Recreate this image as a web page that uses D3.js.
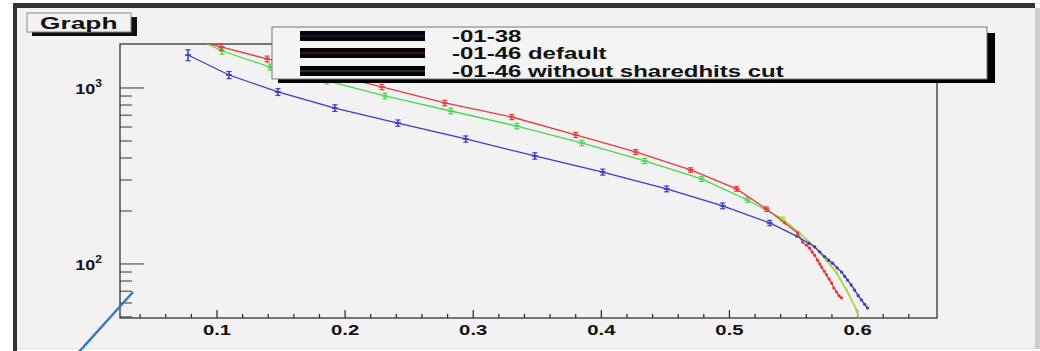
<!DOCTYPE html>
<html lang="en">
<head>
<meta charset="UTF-8">
<title>Graph</title>
<script src="https://d3js.org/d3.v7.min.js"></script>
<style>
  body { margin: 0; background: #fff; }
  svg text { font-family: "Liberation Sans", Arial, sans-serif; font-weight: bold; fill: #111; }
</style>
</head>
<body>
<div id="chart"></div>
<script>
// ---- data ----
var blueX = [0.0774, 0.1094, 0.1476, 0.1920, 0.2412, 0.2942, 0.3481, 0.4011, 0.4510, 0.4947, 0.5314,
             0.5524, 0.5620, 0.5665, 0.5705, 0.5743, 0.5775, 0.5805, 0.5840, 0.5875, 0.5900, 0.5922, 0.5950, 0.5977, 0.6005, 0.6031, 0.6055, 0.6078];
var blueY = [1539, 1185, 949, 769, 632, 513, 411, 333, 267, 214, 171,
             144, 131, 125, 117, 110, 105, 101, 95, 90, 85, 81, 76, 71, 66, 62.4, 59, 56.2];
var blueErr = [110, 55, 42, 33, 26, 21, 17, 13, 10, 8, 6];

var redX = [0.070, 0.1033, 0.1392, 0.184, 0.2287, 0.2778, 0.3301, 0.3800, 0.4268, 0.4697, 0.5056, 0.5290,
            0.5431, 0.5532, 0.5571, 0.5600, 0.5626, 0.5645, 0.5665, 0.5688, 0.5705, 0.5719, 0.5740, 0.5758, 0.5778, 0.5797, 0.5815, 0.5836, 0.5855, 0.5875];
var redY = [1990, 1710, 1462, 1216, 1013, 822, 684, 541, 433, 342, 267, 205,
            171, 150, 133, 128, 123, 117, 112, 105, 100, 96, 91, 86.7, 82, 78, 73, 69.3, 66, 64.1];
var redErr = [0, 70, 55, 45, 36, 29, 23, 18, 14, 10, 8, 6];

var greenX = [0.070, 0.1040, 0.1413, 0.1858, 0.2311, 0.2825, 0.3340, 0.3847, 0.4338, 0.4783, 0.5141, 0.5414,
              0.5546, 0.5665, 0.5758, 0.5836, 0.5914, 0.5992, 0.6012];
var greenY = [2150, 1622, 1316, 1096, 901, 740, 608, 487, 385, 304, 231, 180,
              150, 125, 105, 89, 71, 54.8, 48];
var greenErr = [0, 65, 52, 42, 34, 27, 22, 17, 13, 10, 7, 5];
var greenTailFrom = 11;   // index where the green curve turns yellowish

var seriesNames = ["-01-38", "-01-46 default", "-01-46 without sharedhits cut"];
var seriesColors = ["#3a3ac4", "#e63a3a", "#4cd64c"];
var tailColor = "#b4d63c";

var xMajorTicks = [0.1, 0.2, 0.3, 0.4, 0.5, 0.6];
var xMinorTicks = [0.04, 0.06, 0.08, 0.12, 0.14, 0.16, 0.18, 0.22, 0.24, 0.26, 0.28, 0.32, 0.34, 0.36, 0.38,
                   0.42, 0.44, 0.46, 0.48, 0.52, 0.54, 0.56, 0.58, 0.62, 0.64];
var yMajorTicks = [100, 1000];
var yMinorTicks = [50, 60, 70, 80, 90, 200, 300, 400, 500, 600, 700, 800, 900];

// ---- layout ----
var W = 1040, H = 351;
var frame = { left: 120, right: 937, top: 44, bottom: 318 };

var svg = d3.select("#chart").append("svg")
    .attr("width", W).attr("height", H);

// canvas background and borders
svg.append("rect").attr("x", 13).attr("y", 3).attr("width", 1022).attr("height", 346).attr("fill", "#f2f2f2");
svg.append("rect").attr("x", 13).attr("y", 3).attr("width", 1022).attr("height", 5).attr("fill", "#333");
svg.append("rect").attr("x", 13).attr("y", 3).attr("width", 4).attr("height", 348).attr("fill", "#333");
svg.append("rect").attr("x", 1035).attr("y", 8).attr("width", 5).attr("height", 341).attr("fill", "#cfcfcf");
svg.append("line").attr("x1", 17).attr("x2", 1035).attr("y1", 349).attr("y2", 349).attr("stroke", "#e0e0e0");

// the picture's text is horizontally stretched
function stretchedText(g, x, y, txt, size, sx, anchor) {
    return g.append("text")
        .attr("transform", "translate(" + x + "," + y + ") scale(" + sx + ",1)")
        .attr("text-anchor", anchor || "start")
        .style("font-size", size + "px")
        .text(txt);
}

var x = d3.scaleLinear().domain([0.0243, 0.662]).range([frame.left, frame.right]);
var y = d3.scaleLog().domain([49.3, 1778]).range([frame.bottom, frame.top]);

// ticks
var axes = svg.append("g");
axes.selectAll(".xmaj").data(xMajorTicks).enter().append("line")
    .attr("x1", d => x(d)).attr("x2", d => x(d))
    .attr("y1", frame.bottom).attr("y2", frame.bottom - 8)
    .attr("stroke", "#222").attr("stroke-width", 1.2);
axes.selectAll(".xmin").data(xMinorTicks).enter().append("line")
    .attr("x1", d => x(d)).attr("x2", d => x(d))
    .attr("y1", frame.bottom).attr("y2", frame.bottom - 4)
    .attr("stroke", "#222").attr("stroke-width", 1.2);
axes.selectAll(".ymaj").data(yMajorTicks).enter().append("line")
    .attr("x1", frame.left).attr("x2", frame.left + 24)
    .attr("y1", d => y(d)).attr("y2", d => y(d))
    .attr("stroke", "#555").attr("stroke-width", 1.2);
axes.selectAll(".ymin").data(yMinorTicks).enter().append("line")
    .attr("x1", frame.left).attr("x2", frame.left + 12)
    .attr("y1", d => y(d)).attr("y2", d => y(d))
    .attr("stroke", "#555").attr("stroke-width", 1.2);

// frame
svg.append("rect")
    .attr("x", frame.left).attr("y", frame.top)
    .attr("width", frame.right - frame.left).attr("height", frame.bottom - frame.top)
    .attr("fill", "none").attr("stroke", "#333").attr("stroke-width", 1.3);

// tick labels
xMajorTicks.forEach(function(d) {
    stretchedText(svg, x(d), frame.bottom + 17, d3.format(".1f")(d), 14, 1.45, "middle");
});
yMajorTicks.forEach(function(d) {
    var t = svg.append("text")
        .attr("transform", "translate(" + 102 + "," + (y(d) + 6) + ") scale(1.2,1)")
        .attr("text-anchor", "end")
        .style("font-size", "15px");
    t.append("tspan").text("10");
    t.append("tspan").attr("dy", -7).style("font-size", "10px").text(Math.round(Math.log10(d)));
});

// curves
svg.append("clipPath").attr("id", "clip").append("rect")
    .attr("x", frame.left).attr("y", frame.top)
    .attr("width", frame.right - frame.left).attr("height", frame.bottom - frame.top);
var plot = svg.append("g").attr("clip-path", "url(#clip)");

var series = [
    { xs: blueX, ys: blueY, err: blueErr },
    { xs: redX, ys: redY, err: redErr },
    { xs: greenX, ys: greenY, err: greenErr }
];
var line = d3.line().x(d => x(d[0])).y(d => y(d[1]));

[2, 1, 0].forEach(function(i) {
    var s = series[i];
    var pts = s.xs.map((v, k) => [v, s.ys[k], s.err[k] || 0]);
    var c = seriesColors[i];
    plot.append("path").datum(pts).attr("d", line)
        .attr("fill", "none").attr("stroke", c).attr("stroke-width", 1.3);
    if (i === 2) {
        plot.append("path").datum(pts.slice(greenTailFrom)).attr("d", line)
            .attr("fill", "none").attr("stroke", tailColor).attr("stroke-width", 1.4);
    }
    var g = plot.append("g");
    pts.forEach(function(p, k) {
        var px = x(p[0]), py = y(p[1]);
        var mc = (i === 2 && k >= greenTailFrom) ? tailColor : c;
        if (p[2] > 0) {
            var y1 = y(p[1] + p[2]), y2 = y(p[1] - p[2]);
            g.append("line").attr("x1", px).attr("x2", px).attr("y1", y1).attr("y2", y2)
                .attr("stroke", mc).attr("stroke-width", 1.5);
            g.append("line").attr("x1", px - 2.5).attr("x2", px + 2.5).attr("y1", y1).attr("y2", y1)
                .attr("stroke", mc).attr("stroke-width", 1.2);
            g.append("line").attr("x1", px - 2.5).attr("x2", px + 2.5).attr("y1", y2).attr("y2", y2)
                .attr("stroke", mc).attr("stroke-width", 1.2);
            g.append("line").attr("x1", px - 3).attr("x2", px + 3).attr("y1", py).attr("y2", py)
                .attr("stroke", mc).attr("stroke-width", 1.6);
        } else {
            g.append("circle").attr("cx", px).attr("cy", py).attr("r", 1.6).attr("fill", mc);
        }
    });
});

// title box
svg.append("rect").attr("x", 32).attr("y", 17).attr("width", 105).attr("height", 19).attr("fill", "#111");
svg.append("rect").attr("x", 27).attr("y", 13).attr("width", 104).attr("height", 19)
    .attr("fill", "#f2f2f2").attr("stroke", "#888").attr("stroke-width", 1);
stretchedText(svg, 40, 28.5, "Graph", 17, 1.55, "start");

// legend
var legend = svg.append("g");
legend.append("rect").attr("x", 278).attr("y", 33).attr("width", 717).attr("height", 50).attr("fill", "#000");
legend.append("rect").attr("x", 272).attr("y", 27).attr("width", 715).attr("height", 52)
    .attr("fill", "#f4f4f4").attr("stroke", "#777").attr("stroke-width", 1);
var rowY = [36, 53, 71];
seriesNames.forEach(function(name, i) {
    legend.append("rect").attr("x", 300).attr("y", rowY[i] - 5).attr("width", 125).attr("height", 10).attr("fill", "#050505");
    legend.append("line").attr("x1", 300).attr("x2", 425).attr("y1", rowY[i]).attr("y2", rowY[i])
        .attr("stroke", seriesColors[i]).attr("stroke-width", 1).attr("opacity", 0.5);
    stretchedText(legend, 452, rowY[i] + 5.5, name, 16, 1.5, "start");
});

// blue annotation stroke
svg.append("line").attr("x1", 78).attr("y1", 353).attr("x2", 133).attr("y2", 292)
    .attr("stroke", "#3a78c2").attr("stroke-width", 2.5);
</script>
</body>
</html>
